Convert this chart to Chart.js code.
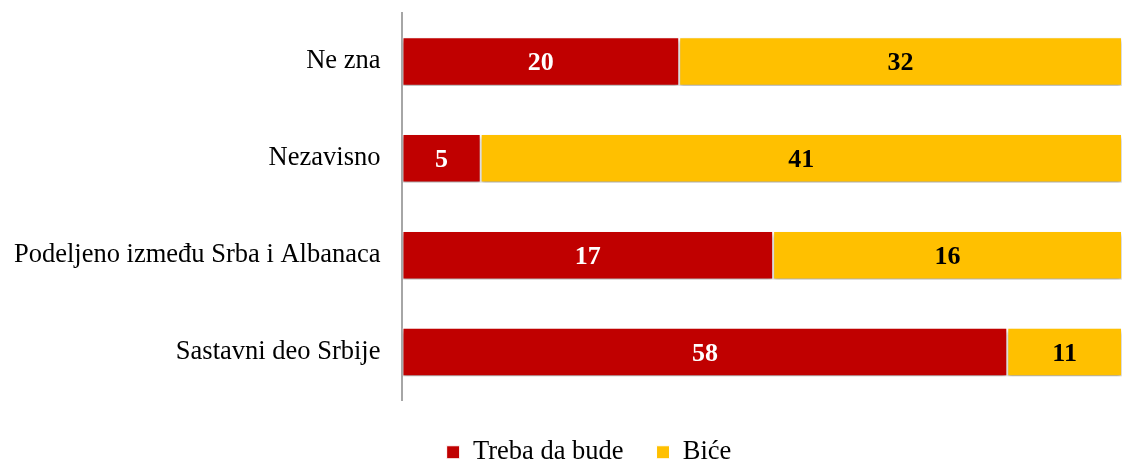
<!DOCTYPE html>
<html>
<head>
<meta charset="utf-8">
<script src="https://cdn.jsdelivr.net/npm/chart.js@4/dist/chart.umd.min.js"></script>
<style>
  html, body { margin: 0; padding: 0; background: #fff; }
  #wrap { width: 1122px; height: 464px; position: relative; }
</style>
</head>
<body>
<div id="wrap"><canvas id="c"></canvas></div>
<script>
// podaci sa slike
const categories = ['Ne zna', 'Nezavisno', 'Podeljeno između Srba i Albanaca', 'Sastavni deo Srbije'];
const seriesNames = ['Treba da bude', 'Biće'];
const trebaDaBude = [20, 5, 17, 58];
const bice = [32, 41, 16, 11];

const colors = ['#C00000', '#FFC000'];
const labelColors = ['#FFFFFF', '#000000'];
const serif = '"Liberation Serif", "Times New Roman", serif';

// 100% stacked: udeo svakog dela u redu
const totals = categories.map((_, i) => trebaDaBude[i] + bice[i]);
const share = arr => arr.map((v, i) => v / totals[i] * 100);
const raw = [trebaDaBude, bice];

const shadowPlugin = {
  id: 'shadow',
  beforeDatasetDraw(chart) {
    const ctx = chart.ctx;
    ctx.save();
    ctx.shadowColor = 'rgba(0,0,0,0.35)';
    ctx.shadowBlur = 4;
    ctx.shadowOffsetY = 3;
  },
  afterDatasetDraw(chart) {
    chart.ctx.restore();
  }
};

const valueLabels = {
  id: 'valueLabels',
  afterDatasetsDraw(chart) {
    const ctx = chart.ctx;
    ctx.save();
    ctx.font = 'bold 26px ' + serif;
    ctx.textAlign = 'center';
    ctx.textBaseline = 'middle';
    chart.data.datasets.forEach((ds, di) => {
      chart.getDatasetMeta(di).data.forEach((bar, i) => {
        const p = bar.getProps(['x', 'base', 'y'], true);
        ctx.fillStyle = labelColors[di];
        ctx.fillText(raw[di][i], (p.x + p.base) / 2, p.y + 2);
      });
    });
    ctx.restore();
  }
};

// legenda: pomeri na mesto kao na originalu
const legendPos = {
  id: 'legendPos',
  afterLayout(chart) {
    const lg = chart.legend;
    const h = lg.bottom - lg.top;
    lg.top = 406;
    lg.bottom = 406 + h;
    lg.left += 28;
    lg.right += 28;
  }
};

new Chart(document.getElementById('c').getContext('2d'), {
  type: 'bar',
  data: {
    labels: categories,
    datasets: [
      { label: seriesNames[0], data: share(trebaDaBude), backgroundColor: colors[0] },
      { label: seriesNames[1], data: share(bice), backgroundColor: colors[1] }
    ]
  },
  options: {
    indexAxis: 'y',
    responsive: true,
    maintainAspectRatio: false,
    animation: false,
    layout: { padding: { top: 13, right: 0, bottom: -34, left: 0 } },
    datasets: {
      bar: {
        barPercentage: 0.5,
        categoryPercentage: 1,
        borderColor: '#FFFFFF',
        borderWidth: 1,
        borderSkipped: false
      }
    },
    scales: {
      x: {
        stacked: true, min: 0, max: 100,
        grid: { display: false },
        border: { display: false },
        ticks: { display: false },
        afterFit: s => { s.height = 28; }
      },
      y: {
        stacked: true,
        grid: { display: false },
        border: { display: true, color: '#A6A6A6', width: 2 },
        ticks: {
          color: '#000',
          padding: 14,
          font: { family: serif, size: 26.5 }
        },
        afterFit: s => { s.paddingTop = 0; s.paddingBottom = 0; }
      }
    },
    plugins: {
      legend: {
        position: 'bottom',
        labels: {
          color: '#000',
          boxWidth: 13,
          boxHeight: 13,
          padding: 33,
          font: { family: serif, size: 26.5 }
        }
      },
      tooltip: { enabled: false }
    }
  },
  plugins: [shadowPlugin, valueLabels, legendPos]
});
</script>
</body>
</html>
